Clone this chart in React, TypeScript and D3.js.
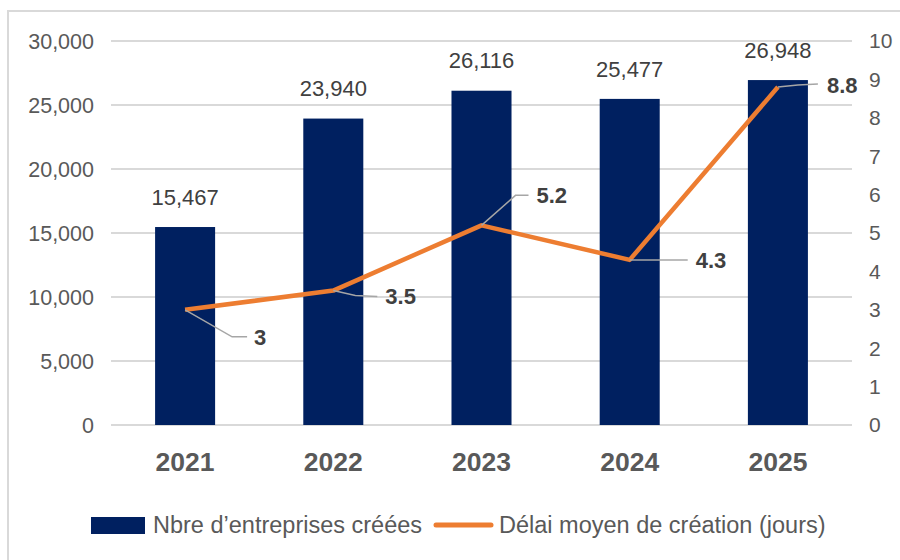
import React from "react";
import * as d3 from "d3";

const years = ["2021", "2022", "2023", "2024", "2025"];
const companies = [15467, 23940, 26116, 25477, 26948];
const delays = [3, 3.5, 5.2, 4.3, 8.8];
const leftTicks = [0, 5000, 10000, 15000, 20000, 25000, 30000];
const rightTicks = [0, 1, 2, 3, 4, 5, 6, 7, 8, 9, 10];
const barName = "Nbre d\u2019entreprises créées";
const lineName = "Délai moyen de création (jours)";
// leader-line label placement (offsets in px relative to point)
const leaderOffsets = [
  { elbow: [47, 27], end: [62, 27], text: [69, 27] },
  { elbow: [22, 5], end: [44, 6], text: [52, 6] },
  { elbow: [34, -30], end: [47, -30], text: [55, -30] },
  { elbow: [29, 0], end: [58, 0], text: [66, 0] },
  { elbow: [20, -2], end: [40, -3], text: [49, -2] },
];

const W = 900, H = 560;
const M = { left: 111, right: 852, top: 41, bottom: 425 };
const FONT = "'Liberation Sans', Arial, sans-serif";

export default function App() {
  const x = d3.scaleBand<string>().domain(years).range([M.left, M.right]).paddingInner(0.595).paddingOuter(0.2975);
  const yL = d3.scaleLinear().domain([0, 30000]).range([M.bottom, M.top]);
  const yR = d3.scaleLinear().domain([0, 10]).range([M.bottom, M.top]);
  const fmt = d3.format(",");
  const cx = (y: string) => (x(y) as number) + x.bandwidth() / 2;
  const line = d3.line<number>().x((_, i) => cx(years[i])).y((d) => yR(d));

  return (
    <svg width={W} height={H} style={{ position: "absolute", left: 0, top: 0, background: "#fff" }} fontFamily={FONT}>
      <rect x={0} y={0} width={W} height={H} fill="#fff" />
      <rect x={8} y={11} width={W + 10} height={H + 10} fill="none" stroke="#D9D9D9" strokeWidth={2} />
      {leftTicks.map((t) => (
        <g key={t}>
          <line x1={M.left} x2={M.right} y1={yL(t)} y2={yL(t)} stroke="#D9D9D9" strokeWidth={2} />
          <text x={94} y={yL(t)} dy="0.35em" textAnchor="end" fontSize={21.5} fill="#595959">{fmt(t)}</text>
        </g>
      ))}
      {rightTicks.map((t) => (
        <text key={t} x={869} y={yR(t)} dy="0.35em" textAnchor="start" fontSize={21} fill="#595959">{t}</text>
      ))}
      {years.map((yr, i) => (
        <g key={yr}>
          <rect x={x(yr)} y={yL(companies[i])} width={x.bandwidth()} height={yL(0) - yL(companies[i])} fill="#002060" />
          <text x={cx(yr)} y={yL(companies[i]) - 30} dy="0.35em" textAnchor="middle" fontSize={22} fill="#404040">{fmt(companies[i])}</text>
          <text x={cx(yr)} y={461.5} dy="0.35em" textAnchor="middle" fontSize={26.5} fontWeight="bold" fill="#595959">{yr}</text>
        </g>
      ))}
      <path d={line(delays) || ""} fill="none" stroke="#ED7D31" strokeWidth={4.5} strokeLinejoin="round" />
      {delays.map((v, i) => {
        const px = cx(years[i]), py = yR(v);
        const o = leaderOffsets[i];
        return (
          <g key={i}>
            <polyline points={`${px},${py} ${px + o.elbow[0]},${py + o.elbow[1]} ${px + o.end[0]},${py + o.end[1]}`} fill="none" stroke="#A6A6A6" strokeWidth={1.5} />
            <text x={px + o.text[0]} y={py + o.text[1]} dy="0.35em" fontSize={22} fontWeight="bold" fill="#404040">{v}</text>
          </g>
        );
      })}
      <rect x={91} y={517} width={54} height={17} fill="#002060" />
      <text x={153} y={525} dy="0.35em" fontSize={23.5} fill="#595959">{barName}</text>
      <line x1={436} x2={491} y1={525} y2={525} stroke="#ED7D31" strokeWidth={5} strokeLinecap="round" />
      <text x={499} y={525} dy="0.35em" fontSize={23.5} fill="#595959">{lineName}</text>
    </svg>
  );
}
